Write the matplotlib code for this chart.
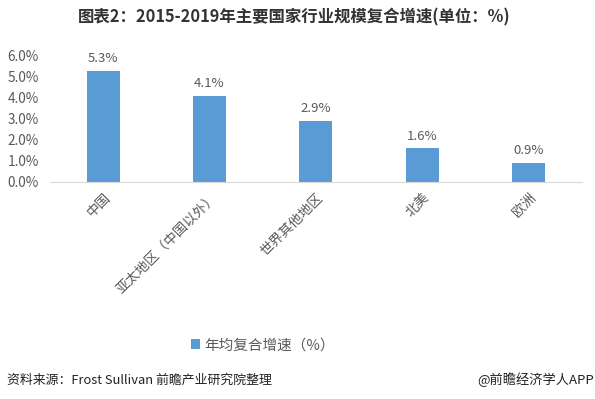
import numpy as np
import matplotlib.pyplot as plt
from matplotlib.ticker import FuncFormatter

plt.rcParams['font.family'] = ['Noto Sans CJK SC', 'DejaVu Sans']

TITLE = "图表2：2015-2019年主要国家行业规模复合增速(单位：%)"
categories = ["中国", "亚太地区（中国以外）", "世界其他地区", "北美", "欧洲"]
growth = [5.3, 4.1, 2.9, 1.6, 0.9]
SERIES = "年均复合增速（%）"
SOURCE = "资料来源：Frost Sullivan 前瞻产业研究院整理"
BRAND = "@前瞻经济学人APP"

BAR_COLOR = "#5B9BD5"
TEXT_COLOR = "#595959"

fig = plt.figure(figsize=(5.95, 3.99), dpi=100)
ax = fig.add_axes([0.084, 0.544, 0.894, 0.316])

x = np.arange(len(categories))
bars = ax.bar(x, growth, width=0.31, color=BAR_COLOR, label=SERIES, zorder=2)
for xi, v in zip(x, growth):
    ax.annotate(f"{v:.1f}%", xy=(xi, v), xytext=(0, 4), textcoords="offset points",
                ha="center", va="bottom", fontsize=9.5, color=TEXT_COLOR)

ax.set_xlim(-0.5, len(categories) - 0.5)
ax.set_ylim(0, 6.0)
ax.set_yticks(np.arange(0, 6.01, 1.0))
ax.yaxis.set_major_formatter(FuncFormatter(lambda v, _: f"{v:.1f}%"))
ax.set_xticks(x)
ax.set_xticklabels(categories, rotation=45, ha="right", rotation_mode="anchor")
ax.tick_params(axis="both", length=0, labelsize=9.8, colors=TEXT_COLOR)
ax.tick_params(axis="x", pad=6)
ax.tick_params(axis="y", pad=8)
for s in ("top", "right", "left"):
    ax.spines[s].set_visible(False)
ax.spines["bottom"].set_color("#D9D9D9")

fig.text(0.495, 0.955, TITLE, ha="center", va="center", fontsize=11.8,
         fontweight="bold", color="#333333")
fig.legend(handles=[bars], labels=[SERIES], loc="center", bbox_to_anchor=(0.442, 0.135),
           frameon=False, fontsize=10.5, handlelength=0.6, handleheight=0.6,
           handletextpad=0.3, labelcolor=TEXT_COLOR)
fig.text(0.012, 0.048, SOURCE, ha="left", va="center", fontsize=9.3, color="#222222")
fig.text(0.998, 0.048, BRAND, ha="right", va="center", fontsize=9.5, color="#222222")

fig.savefig("out.png", dpi=100)
